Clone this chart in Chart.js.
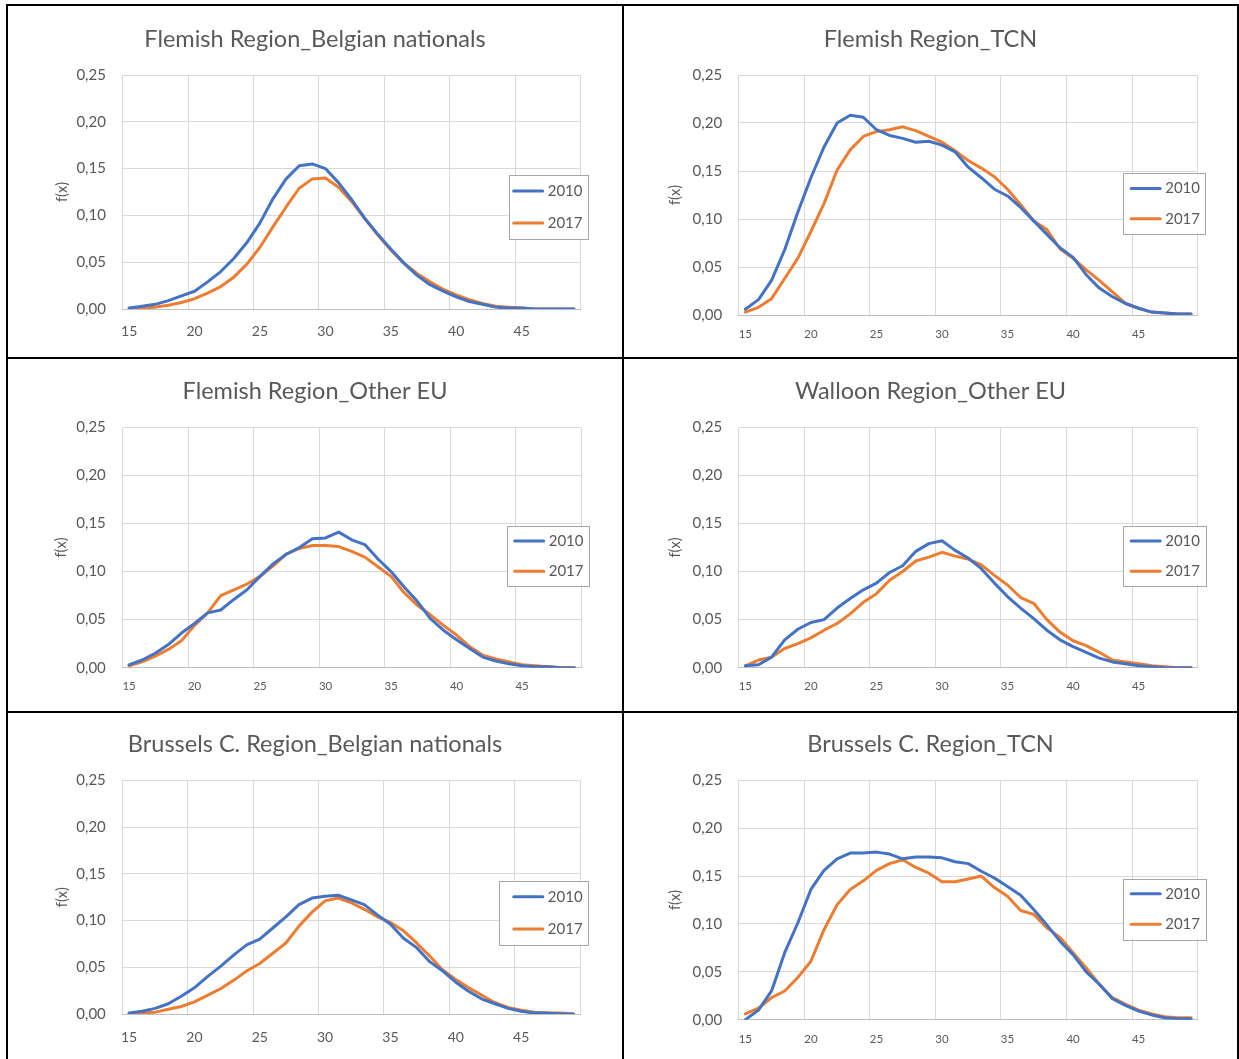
<!DOCTYPE html>
<html>
<head>
<meta charset="utf-8">
<script src="https://cdn.jsdelivr.net/npm/chart.js"></script>
<style>
  body { margin: 0; background: #fff; width: 1239px; height: 1059px; overflow: hidden; position: relative; }
  .cell { position: absolute; border: 2px solid #000; box-sizing: border-box; background: #fff; }
  .cell canvas { position: absolute; left: 0; top: 0; }
</style>
</head>
<body>
<div class="cell" style="left:6px;top:4px;width:618px;height:355px"><canvas id="c1" width="614" height="351"></canvas></div>
<div class="cell" style="left:622px;top:4px;width:617px;height:355px"><canvas id="c2" width="613" height="351"></canvas></div>
<div class="cell" style="left:6px;top:357px;width:618px;height:356px"><canvas id="c3" width="614" height="352"></canvas></div>
<div class="cell" style="left:622px;top:357px;width:617px;height:356px"><canvas id="c4" width="613" height="352"></canvas></div>
<div class="cell" style="left:6px;top:711px;width:618px;height:352px"><canvas id="c5" width="614" height="348"></canvas></div>
<div class="cell" style="left:622px;top:711px;width:617px;height:352px"><canvas id="c6" width="613" height="348"></canvas></div>
<script>
const ages = ['15','16','17','18','19','20','21','22','23','24','25','26','27','28','29','30','31','32',
  '33','34','35','36','37','38','39','40','41','42','43','44','45','46','47','48','49'];
const xTickLabels = ['15','20','25','30','35','40','45'];
const yTickValues = [0, 0.05, 0.10, 0.15, 0.20, 0.25];
const seriesNames = ['2010', '2017'];

const flemishBelgian2010 = [0.001,0.003,0.005,0.009,0.014,0.019,0.029,0.040,0.054,0.071,0.092,0.118,0.139,0.153,0.155,0.150,0.135,0.117,0.097,0.080,0.064,0.049,0.036,0.026,0.019,0.013,0.008,0.005,0.002,0.001,0.001,0.000,0.000,0.000,0.000];
const flemishBelgian2017 = [0.000,0.001,0.002,0.004,0.007,0.011,0.017,0.024,0.034,0.048,0.066,0.088,0.109,0.129,0.139,0.140,0.130,0.115,0.097,0.079,0.063,0.049,0.038,0.029,0.021,0.015,0.010,0.006,0.003,0.002,0.001,0.000,0.000,0.000,0.000];

const flemishTcn2010 = [0.006,0.016,0.036,0.068,0.107,0.143,0.175,0.200,0.208,0.206,0.193,0.187,0.184,0.180,0.181,0.177,0.170,0.154,0.143,0.131,0.124,0.112,0.098,0.084,0.070,0.060,0.042,0.028,0.019,0.012,0.007,0.003,0.002,0.001,0.001];
const flemishTcn2017 = [0.003,0.008,0.017,0.038,0.059,0.087,0.116,0.151,0.172,0.186,0.191,0.193,0.196,0.192,0.186,0.180,0.171,0.161,0.153,0.144,0.131,0.115,0.098,0.089,0.069,0.059,0.047,0.036,0.024,0.012,0.007,0.003,0.002,0.001,0.001];

const flemishEu2010 = [0.003,0.008,0.015,0.024,0.036,0.046,0.057,0.060,0.071,0.081,0.095,0.108,0.118,0.125,0.134,0.135,0.141,0.133,0.128,0.113,0.100,0.084,0.069,0.051,0.039,0.029,0.020,0.011,0.007,0.004,0.002,0.001,0.001,0.000,0.000];
const flemishEu2017 = [0.002,0.006,0.012,0.019,0.028,0.044,0.057,0.075,0.081,0.087,0.095,0.106,0.118,0.124,0.127,0.127,0.126,0.121,0.115,0.105,0.095,0.078,0.065,0.055,0.044,0.034,0.022,0.013,0.009,0.006,0.003,0.002,0.001,0.000,0.000];

const walloonEu2010 = [0.002,0.003,0.011,0.029,0.040,0.047,0.050,0.062,0.072,0.081,0.088,0.099,0.106,0.121,0.129,0.132,0.122,0.114,0.103,0.088,0.074,0.062,0.051,0.039,0.029,0.022,0.016,0.010,0.006,0.004,0.002,0.001,0.000,0.000,0.000];
const walloonEu2017 = [0.002,0.008,0.011,0.020,0.025,0.031,0.039,0.046,0.056,0.068,0.077,0.091,0.100,0.111,0.115,0.120,0.116,0.113,0.107,0.096,0.086,0.073,0.067,0.050,0.037,0.028,0.023,0.016,0.008,0.006,0.004,0.002,0.001,0.000,0.000];

const brusselsBelgian2010 = [0.001,0.003,0.006,0.011,0.019,0.028,0.040,0.051,0.063,0.074,0.080,0.092,0.104,0.117,0.124,0.126,0.127,0.122,0.117,0.106,0.096,0.081,0.071,0.056,0.046,0.034,0.024,0.016,0.011,0.006,0.003,0.001,0.001,0.000,0.000];
const brusselsBelgian2017 = [0.000,0.001,0.002,0.005,0.008,0.013,0.020,0.027,0.036,0.046,0.054,0.065,0.076,0.094,0.109,0.121,0.124,0.119,0.112,0.104,0.098,0.089,0.076,0.062,0.047,0.037,0.028,0.020,0.012,0.007,0.004,0.002,0.001,0.001,0.000];

const brusselsTcn2010 = [0.000,0.010,0.030,0.070,0.101,0.136,0.156,0.168,0.174,0.174,0.175,0.173,0.168,0.170,0.170,0.169,0.165,0.163,0.155,0.148,0.139,0.130,0.115,0.099,0.082,0.068,0.050,0.037,0.022,0.015,0.009,0.005,0.002,0.001,0.001];
const brusselsTcn2017 = [0.006,0.012,0.023,0.030,0.044,0.061,0.094,0.120,0.136,0.145,0.156,0.163,0.167,0.159,0.153,0.144,0.144,0.147,0.150,0.138,0.129,0.114,0.110,0.096,0.086,0.070,0.054,0.037,0.023,0.016,0.010,0.006,0.003,0.002,0.002];

const blue = '#4472C4';
const orange = '#ED7D31';
const textColor = '#595959';
const gridColor = '#D9D9D9';

Chart.defaults.font.family = 'Lato, "Noto Sans", sans-serif';
Chart.defaults.color = textColor;

// legend drawn as a framed box that sits over the plot, like the Excel one
const boxLegend = {
  id: 'boxLegend',
  afterDraw(chart, args, opts) {
    const ctx = chart.ctx;
    const b = opts.box;
    ctx.save();
    ctx.fillStyle = '#fff';
    ctx.fillRect(b.x, b.y, b.w, b.h);
    ctx.strokeStyle = '#A6A6A6';
    ctx.lineWidth = 1;
    ctx.strokeRect(Math.round(b.x) + 0.5, Math.round(b.y) + 0.5, Math.round(b.w), Math.round(b.h));
    ctx.font = '15px Lato';
    ctx.textBaseline = 'middle';
    ctx.textAlign = 'right';
    chart.data.datasets.forEach((ds, i) => {
      const cy = b.y + b.h * (i === 0 ? 0.25 : 0.75);
      const tx = b.x + b.w - 5.5;
      const tw = ctx.measureText(ds.label).width;
      ctx.fillStyle = textColor;
      ctx.fillText(ds.label, tx, cy);
      ctx.strokeStyle = ds.borderColor;
      ctx.lineWidth = 3;
      ctx.lineCap = 'round';
      ctx.beginPath();
      ctx.moveTo(tx - tw - 5 - 29, cy);
      ctx.lineTo(tx - tw - 5, cy);
      ctx.stroke();
    });
    ctx.restore();
  }
};

function makeChart(id, title, d2010, d2017, lay) {
  // same padding left and right keeps the title centred on the whole panel
  const side = lay.padR;
  return new Chart(document.getElementById(id), {
    type: 'line',
    data: {
      labels: ages,
      datasets: [
        { label: seriesNames[0], data: d2010, borderColor: blue, backgroundColor: blue },
        { label: seriesNames[1], data: d2017, borderColor: orange, backgroundColor: orange }
      ]
    },
    options: {
      responsive: false,
      animation: false,
      layout: { padding: { left: side, top: 0, right: side, bottom: 0 } },
      elements: {
        line: { borderWidth: 3, tension: 0, fill: false, borderJoinStyle: 'round', borderCapStyle: 'round' },
        point: { radius: 0 }
      },
      scales: {
        x: {
          offset: true,
          grid: {
            offset: true,
            drawTicks: false,
            color: c => (c.index === undefined || c.index % 5 === 0) ? gridColor : 'rgba(0,0,0,0)'
          },
          border: { color: '#BFBFBF' },
          ticks: {
            autoSkip: false,
            maxRotation: 0,
            padding: lay.xPad,
            font: { size: lay.xFont },
            callback: function (v) {
              const lab = this.getLabelForValue(v);
              return xTickLabels.includes(lab) ? lab : '';
            }
          },
          afterFit: s => { s.height = lay.xHeight; }
        },
        y: {
          min: 0,
          max: 0.25,
          grid: { color: gridColor, drawTicks: false },
          border: { display: false },
          ticks: {
            padding: 16.7,
            font: { size: 15 },
            callback: v => v.toFixed(2).replace('.', ',')
          },
          afterBuildTicks: s => { s.ticks = yTickValues.map(v => ({ value: v })); },
          title: { display: true, text: 'f(x)', font: { size: 14.5 }, padding: { top: lay.fxPad - side - 0.6, bottom: 0 } },
          afterFit: s => { s.width = lay.yWidth - side; }
        }
      },
      plugins: {
        legend: { display: false },
        tooltip: { enabled: false },
        title: {
          display: true,
          text: title,
          color: textColor,
          font: { size: 23.5, weight: 'normal' },
          padding: { top: lay.tTop - 0.9, bottom: lay.tBottom - 0.9 }
        },
        boxLegend: { box: lay.legend }
      }
    },
    plugins: [boxLegend]
  });
}

makeChart('c1', 'Flemish Region_Belgian nationals', flemishBelgian2010, flemishBelgian2017,
  { padR: 41.5, yWidth: 114.6, xHeight: 48, xFont: 14, xPad: 13.7, fxPad: 46.2, tTop: 20.5, tBottom: 22.1,
    legend: { x: 500.7, y: 169, w: 79.3, h: 64 } });
makeChart('c2', 'Flemish Region_TCN', flemishTcn2010, flemishTcn2017,
  { padR: 39.4, yWidth: 114.8, xHeight: 42, xFont: 11.5, xPad: 12.1, fxPad: 43.5, tTop: 20.5, tBottom: 22.1,
    legend: { x: 499.4, y: 167.3, w: 82.1, h: 60.7 } });
makeChart('c3', 'Flemish Region_Other EU', flemishEu2010, flemishEu2017,
  { padR: 41, yWidth: 114.5, xHeight: 43.3, xFont: 11.5, xPad: 11.4, fxPad: 45.2, tTop: 19, tBottom: 22.9,
    legend: { x: 498.7, y: 167, w: 82.3, h: 60.3 } });
makeChart('c4', 'Walloon Region_Other EU', walloonEu2010, walloonEu2017,
  { padR: 39.4, yWidth: 114.8, xHeight: 43.3, xFont: 11.5, xPad: 11.4, fxPad: 43.5, tTop: 19, tBottom: 22.9,
    legend: { x: 499, y: 167, w: 82.5, h: 60.3 } });
makeChart('c5', 'Brussels C. Region_Belgian nationals', brusselsBelgian2010, brusselsBelgian2017,
  { padR: 42, yWidth: 114.5, xHeight: 47, xFont: 14, xPad: 14.7, fxPad: 46.2, tTop: 18, tBottom: 22.9,
    legend: { x: 491.2, y: 167.7, w: 88.9, h: 64.3 } });
makeChart('c6', 'Brussels C. Region_TCN', brusselsTcn2010, brusselsTcn2017,
  { padR: 39.4, yWidth: 114.8, xHeight: 41.3, xFont: 11.5, xPad: 12.4, fxPad: 43.5, tTop: 18, tBottom: 22.9,
    legend: { x: 499, y: 165.7, w: 82.5, h: 60.6 } });
</script>
</body>
</html>
